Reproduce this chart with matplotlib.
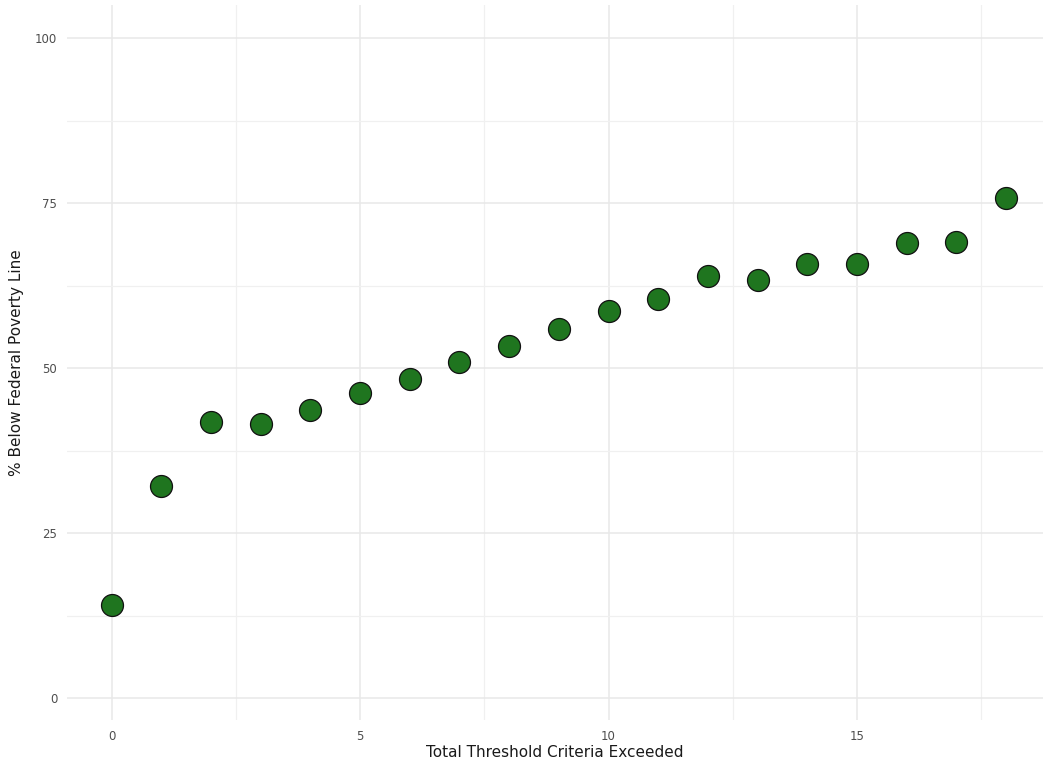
import matplotlib
matplotlib.use("Agg")
import matplotlib.pyplot as plt

criteria = list(range(19))
pct_below_poverty = [14.1, 32.2, 41.8, 41.5, 43.6, 46.3, 48.4, 51.0, 53.3, 56.0,
                     58.6, 60.4, 64.0, 63.4, 65.8, 65.8, 68.9, 69.1, 75.7]
x_ticks = [0, 5, 10, 15]
y_ticks = [0, 25, 50, 75, 100]

fig = plt.figure(figsize=(10.57, 7.75), dpi=100)
ax = fig.add_axes([0.0634, 0.071, 0.9236, 0.9225])
ax.set_facecolor("white")
for s in ax.spines.values():
    s.set_visible(False)

ax.scatter(criteria, pct_below_poverty, s=250, facecolor="#1f751f",
           edgecolor="#111111", linewidth=0.9, zorder=3)

ax.set_xlim(-0.9, 18.75)
ax.set_ylim(-3.3, 105)
ax.set_xticks(x_ticks)
ax.set_yticks(y_ticks)
ax.set_xticks([2.5, 7.5, 12.5, 17.5], minor=True)
ax.set_yticks([12.5, 37.5, 62.5, 87.5], minor=True)
ax.grid(True, which="major", color="#e8e8e8", linewidth=1.1, zorder=0)
ax.grid(True, which="minor", color="#f0f0f0", linewidth=0.9, zorder=0)
ax.tick_params(which="both", length=0)
ax.tick_params(axis="both", labelsize=8.5, labelcolor="#4d4d4d", pad=7)

ax.set_xlabel("Total Threshold Criteria Exceeded", fontsize=11, color="#1a1a1a", labelpad=2)
ax.set_ylabel("% Below Federal Poverty Line", fontsize=11, color="#1a1a1a", labelpad=8)

fig.savefig("out.png", dpi=100, facecolor="white")
